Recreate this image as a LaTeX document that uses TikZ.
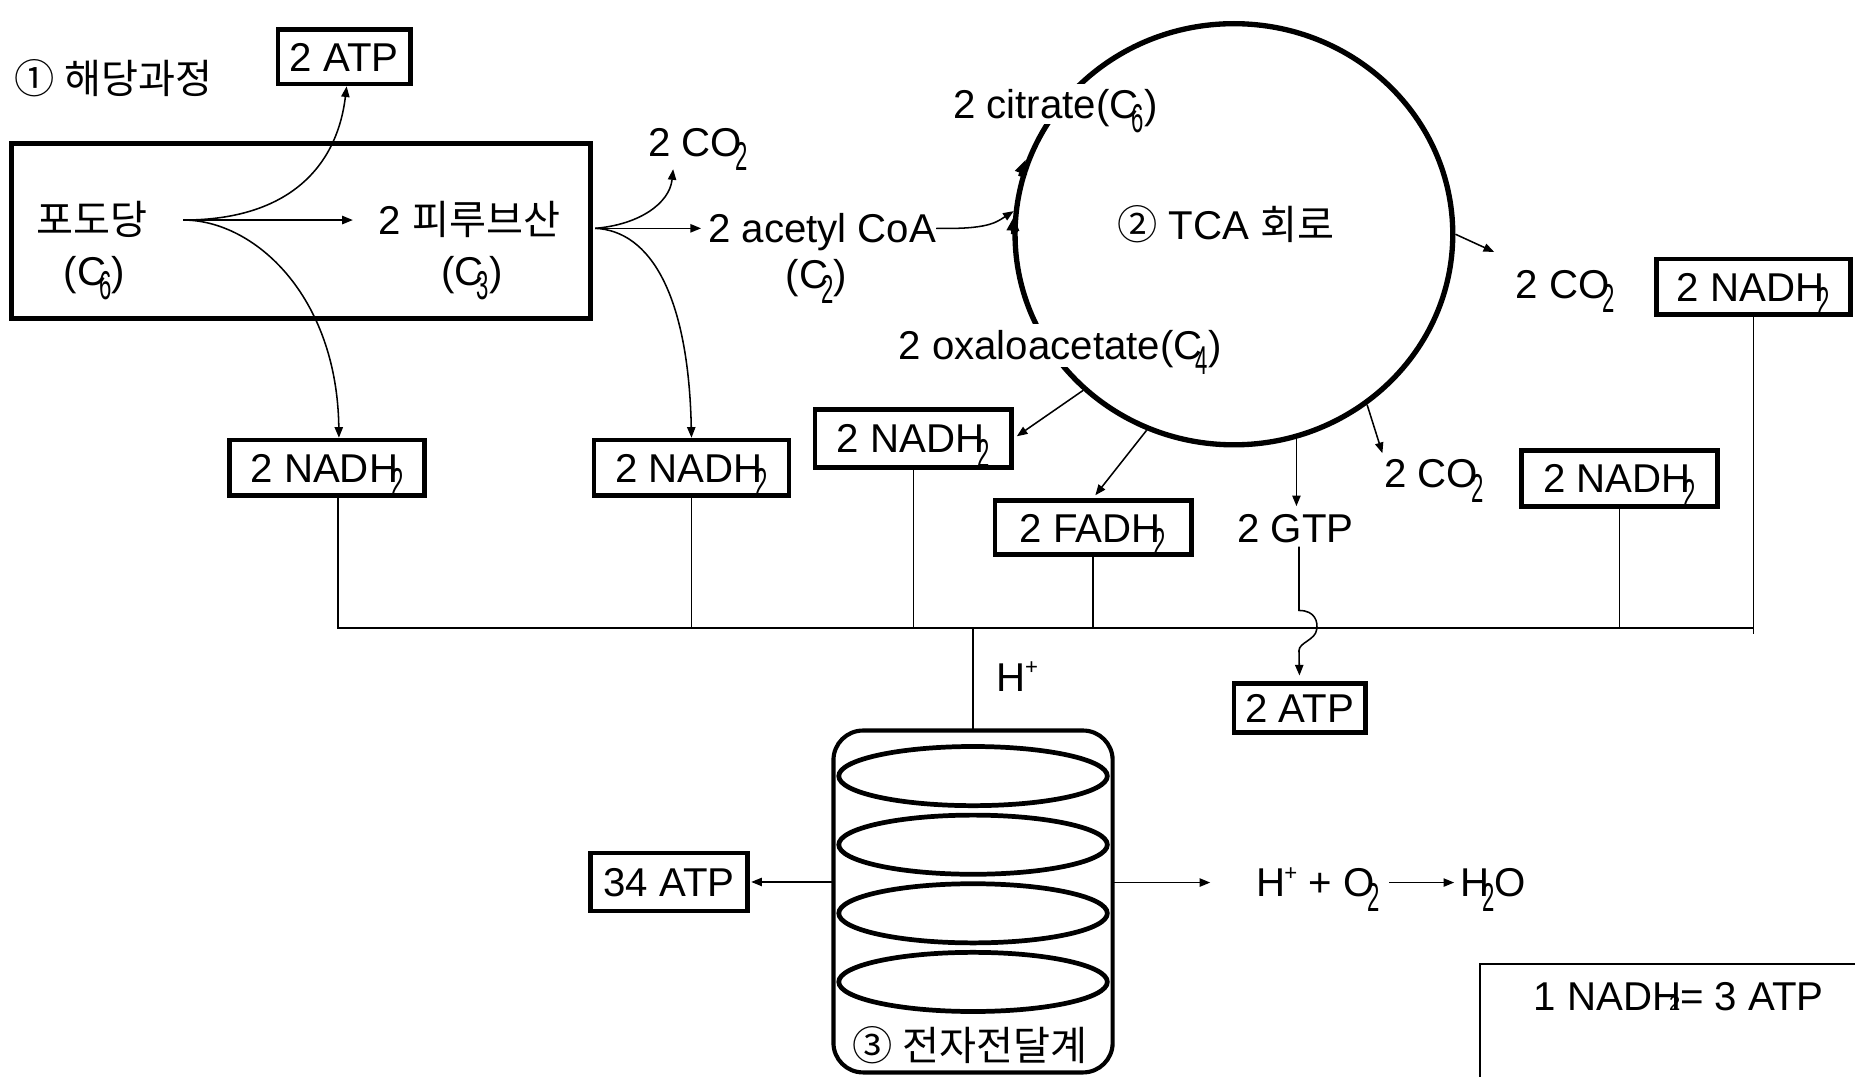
\documentclass[tikz,border=0pt]{standalone}
\usepackage{graphicx}
\usepackage{fontspec}
\setmainfont{Liberation Sans}
\newfontfamily\kr{Noto Sans CJK KR}
\usetikzlibrary{arrows.meta,shapes.geometric}
\newcommand\sbs[1]{\kern-0.17em\raisebox{-0.36em}{\scalebox{0.55}[1]{#1}}}
\newcommand\sps[1]{\kern-0.02em\raisebox{0.4em}{\scalebox{0.55}{#1}}}
\begin{document}
\begin{tikzpicture}[x=1pt,y=-1pt,
  every node/.style={inner sep=0pt, outer sep=0pt, text height=24.3pt, text depth=0pt, font=\fontsize{34}{40}\selectfont},
  thinl/.style={line width=1.3pt},
  arr/.style={line width=1.3pt, -{Triangle[length=9pt,width=7pt]}},
  cycarr/.style={line width=3pt, -{Triangle[length=12pt,width=10pt]}},
  tbox/.style={draw, line width=4pt, outer sep=2pt},
  cyc/.style={draw, ellipse, line width=4.5pt, outer sep=2.25pt},
  disk/.style={draw, ellipse, line width=4pt, minimum width=227pt, minimum height=50pt},
  gap/.style={fill=white, inner ysep=5pt}]
\useasboundingbox (0,0) rectangle (1568,910);
\fill[white] (0,0) rectangle (1568,910);

% ---------- glycolysis ----------
\node (glyct) at (96,67) {\kr ① 해당과정};
\node[tbox, minimum width=112pt, minimum height=46pt] (atp1) at (291,48) {2 ATP};
\node[tbox, minimum width=489pt, minimum height=148pt] (gbox) at (254.5,195) {};
\node (glc) at (78,186) {\kr 포도당};
\node (glcC) at (80,229) {(C\sbs6)};
\node (pyr) at (397,186) {2 {\kr 피루브산}};
\node (pyrC) at (399,229) {(C\sbs3)};
\node (co2a) at (590,120) {2 CO\sbs2};
\node (acoa) at (695,193) {2 acetyl CoA};
\node (acoaC) at (690,232) {(C\sbs2)};
\node[tbox, minimum width=165pt, minimum height=47pt] (n1) at (276.5,395.5) {2 NADH\sbs2};
\node[tbox, minimum width=165pt, minimum height=47pt] (n2) at (584.5,395.5) {2 NADH\sbs2};

\coordinate (gsplit) at (155,186);
\coordinate (psplit) at (503,193);
\coordinate (co2ain) at (569,143);

\draw[arr, shorten >=22pt] (gsplit) -- (pyr.west);
\draw[arr] (gsplit) .. controls (245,186) and (285,140) .. ([xshift=2pt]atp1.south);
\draw[arr] (gsplit) .. controls (215,186) and (285,250) .. ([xshift=10pt]n1.north);
\draw[arr, shorten >=6pt] (psplit) -- (acoa.west);
\draw[arr] (psplit) .. controls (540,190) and (566,172) .. (co2ain);
\draw[arr] (psplit) .. controls (550,195) and (582,250) .. (n2.north);

% ---------- TCA cycle ----------
\node[cyc, minimum width=370pt, minimum height=356pt] (tca) at (1043,198) {};
\node[gap] (cit) at (892,88) {2 citrate(C\sbs6)};
\node (tcat) at (1036,190) {{\kr ②} TCA {\kr 회로}};
\node[gap, inner ysep=6pt] (oxa) at (896,292) {2 oxaloacetate(C\sbs4)};

\draw[cycarr] (862,149) -- (867,135);
\draw[cycarr] (856,198) -- (857,183);
\draw[arr] (acoa.east) .. controls (835,194) and (842,188) .. (tca.174);

\node (co2b) at (1323,240) {2 CO\sbs2};
\node[tbox, minimum width=164pt, minimum height=47pt] (nR1) at (1482,242.5) {2 NADH\sbs2};
\node (co2c) at (1212,400) {2 CO\sbs2};
\node[tbox, minimum width=166pt, minimum height=47pt] (nR2) at (1369,404.5) {2 NADH\sbs2};
\node (gtp) at (1095,446) {2 GTP};
\node[tbox, minimum width=111pt, minimum height=41pt] (atp2) at (1098.5,598.5) {2 ATP};
\node[tbox, minimum width=166pt, minimum height=46pt] (fadh) at (924,446) {2 FADH\sbs2};
\node[tbox, minimum width=166pt, minimum height=49pt] (nM) at (772,370.5) {2 NADH\sbs2};

\coordinate (co2bin) at (1263,213);
\draw[arr] (tca.0) -- (co2bin);
\draw[arr, shorten >=5pt] (tca.-52.7) -- (co2c.north west);
\draw[arr, shorten >=6pt] (tca.-73.3) -- (tca.-73.3 |- gtp.north);
\draw[arr, shorten >=3pt] (tca.246) -- (fadh.north);
\draw[arr, shorten >=3pt] (tca.226) -- (nM.east);
\draw[arr, shorten <=4pt, shorten >=5pt] ([xshift=3pt]gtp.south) -- (1098,516)
  .. controls (1112,516) and (1114,526) .. (1113,532)
  .. controls (1112,541) and (1098,543) .. (1098,550) -- (atp2.north);

% ---------- collecting line ----------
\coordinate (busL) at (285.5,531);
\coordinate (busR) at (1483,531);
\draw[thinl] ([xshift=9pt]n1.south) |- (busR);
\draw[thinl] (nR1.south) -- (nR1.south |- busR) -- ++(0,5);
\draw[thinl] (n2.south) -- (n2.south |- busL);
\draw[thinl] (nM.south) -- (nM.south |- busL);
\draw[thinl] (fadh.south) -- (fadh.south |- busL);
\draw[thinl] (nR2.south) -- (nR2.south |- busL);
\node (hp) at (860,572) {H\sps+};

% ---------- electron transport chain ----------
\node[draw, rounded corners=25pt, line width=3.5pt, minimum width=236pt, minimum height=289pt] (etc) at (822.5,762) {};
\draw[thinl] (etc.north |- busL) -- (etc.north);
\node[disk] (e1) at (822.5,656) {};
\node[disk] (e2) at (822.5,714) {};
\node[disk] (e3) at (822.5,772) {};
\node[disk] (e4) at (822.5,830) {};
\node (etct) at (820,884) {\kr ③ 전자전달계};
\node[tbox, minimum width=133pt, minimum height=49pt] (atp34) at (565.5,745.5) {34 ATP};
\draw[arr, shorten >=1pt] (etc.west |- atp34.east) -- (atp34.east);
\coordinate (etcout) at (1023,746);
\draw[arr] (etc.east |- etcout) -- (etcout);
\node (hpo) at (1114,746) {H\sps+ + O\sbs2};
\node (h2o) at (1262,746) {H\sbs2O};
\draw[arr, shorten <=8pt, shorten >=5pt] (hpo.east) -- (h2o.west);

% ---------- legend ----------
\coordinate (lgA) at (1251,912);
\coordinate (lgB) at (1570,815);
\draw[thinl] (lgA) |- (lgB);
\node (leg) at (1419,842) {1 NADH\kern-0.3em{\fontsize{17}{17}\selectfont 2}= 3 ATP};
\end{tikzpicture}
\end{document}
